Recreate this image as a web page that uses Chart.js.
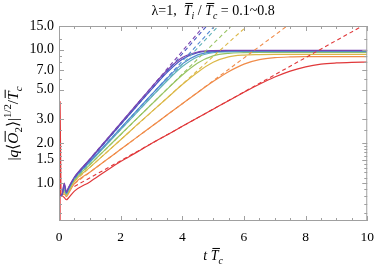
<!DOCTYPE html>
<html><head><meta charset="utf-8">
<script src="https://cdn.jsdelivr.net/npm/chart.js@4/dist/chart.umd.min.js"></script>
<style>html,body{margin:0;padding:0;background:#fff}canvas{display:block}</style>
</head><body>
<canvas id="c" width="382" height="268"></canvas>
<script>
// ---- data ----
const ratios = ['0.1','0.2','0.3','0.4','0.5','0.6','0.7','0.8'];
const tGrid = [0,0.1,0.17,0.24,0.3,0.5,1,1.5,2,2.5,3,3.5,4,4.5,5,5.5,6,6.5,7,7.5,8,8.5,9,9.5,10];
const v01 = [0.80,0.82,1.00,0.86,0.92,1.11,1.51,2.06,2.81,3.83,5.21,6.97,8.71,9.58,9.81,9.84,9.85,9.85,9.85,9.85,9.85,9.85,9.85,9.85,9.85];
const v02 = [0.80,0.82,0.98,0.85,0.91,1.10,1.49,2.03,2.75,3.72,5.03,6.72,8.46,9.47,9.74,9.79,9.80,9.80,9.80,9.80,9.80,9.80,9.80,9.80,9.80];
const v03 = [0.80,0.82,0.95,0.84,0.90,1.085,1.45,1.93,2.58,3.44,4.59,6.07,7.81,9.11,9.60,9.73,9.75,9.75,9.75,9.75,9.75,9.75,9.75,9.75,9.75];
const v04 = [0.80,0.82,0.92,0.83,0.89,1.08,1.43,1.89,2.51,3.33,4.41,5.81,7.45,8.83,9.46,9.61,9.64,9.65,9.65,9.65,9.65,9.65,9.65,9.65,9.65];
const v05 = [0.80,0.81,0.89,0.82,0.87,1.055,1.37,1.78,2.31,3.00,3.88,5.03,6.45,7.93,8.96,9.37,9.47,9.50,9.50,9.50,9.50,9.50,9.50,9.50,9.50];
const v06 = [0.80,0.81,0.86,0.81,0.85,1.03,1.31,1.66,2.11,2.69,3.41,4.32,5.47,6.77,8.02,8.80,9.09,9.17,9.20,9.20,9.20,9.20,9.20,9.20,9.20];
const v07 = [0.80,0.81,0.83,0.79,0.83,0.99,1.205,1.47,1.79,2.18,2.65,3.23,3.93,4.77,5.75,6.82,7.78,8.40,8.69,8.80,8.84,8.85,8.85,8.85,8.85];
const v08 = [0.80,0.80,0.78,0.75,0.77,0.87,1.02,1.22,1.45,1.69,1.98,2.29,2.66,3.08,3.57,4.14,4.78,5.49,6.22,6.89,7.42,7.77,7.93,8.01,8.05];
const solidValues = [v01,v02,v03,v04,v05,v06,v07,v08];
// initial spike of the 0.8 run
const spikeT = [0,0.03,0.06,0.1];
const spikeV = [0.3,4.1,0.82,0.80];
// dashed (exponential-growth) guide lines: start and end points
const dashStartT = [0.5,0.5,0.5,0.5,0.5,0.5,0.5,0.5];
const dashStartV = [1.11,1.10,1.085,1.08,1.055,1.03,0.99,0.943];
const dashEndT   = [4.70,4.79,5.05,5.17,5.59,6.10,7.40,9.84];
const dashEndV   = [15,15,15,15,15,15,15,15];
// ticks
const xTicks = [0,2,4,6,8,10];
const xMinor = [0.5,1,1.5,2.5,3,3.5,4.5,5,5.5,6.5,7,7.5,8.5,9,9.5];
const yTicks = [1,1.5,2,3,5,7,10,15];
const yMinor = [0.6,0.7,0.8,0.9,1.1,1.2,1.3,1.4,1.6,1.7,1.8,1.9,2.5,4,6,8,9,12];

const colors = ['#7a44b0','#4a58c2','#4f88d2','#62b2b8','#98c462','#dcb848','#f08c4a','#e0383a'];
const SERIF = '"Liberation Serif","Times New Roman",serif';

const datasets = [];
ratios.forEach((r,i)=>{
  datasets.push({label:'dash '+r, data:[{x:dashStartT[i],y:dashStartV[i]},{x:dashEndT[i],y:dashEndV[i]}],
    borderColor:colors[i], borderWidth:1.1, borderDash:[4,3], pointRadius:0, tension:0});
});
ratios.forEach((r,i)=>{
  datasets.push({label:r, data:tGrid.map((t,k)=>({x:t,y:solidValues[i][k]})),
    borderColor:colors[i], borderWidth:1.2, pointRadius:0, cubicInterpolationMode:'monotone'});
});
datasets.push({label:'spike', data:spikeT.map((t,k)=>({x:t,y:spikeV[k]})), borderColor:colors[7], borderWidth:1.5, pointRadius:0, tension:0});

function fontFor(p,size){ const s=(p.sub||p.sup)?size*0.7:size; return (p.it?'italic ':'')+s.toFixed(1)+'px '+SERIF; }
function richWidth(ctx,parts,size){ let w=0; for(const p of parts){ ctx.font=fontFor(p,size); w+=ctx.measureText(p.t).width; } return w; }
function drawRich(ctx,parts,x,y,size){
  let cx=x;
  for(const p of parts){
    ctx.font=fontFor(p,size);
    const w=ctx.measureText(p.t).width;
    let yy=y; if(p.sub) yy+=size*0.25; if(p.sup) yy-=size*0.42;
    ctx.fillText(p.t,cx,yy);
    if(p.over){ ctx.fillRect(cx+size*0.12, y-size*0.86, w-size*0.02, 1); }
    cx+=w;
  }
}
const titleParts=[{t:'λ=1,  '},{t:'T',it:1,over:1},{t:'i',it:1,sub:1},{t:' / '},{t:'T',it:1,over:1},{t:'c',it:1,sub:1},{t:' = 0.1~0.8'}];
const yTitleParts=[{t:'|'},{t:'q',it:1},{t:'⟨'},{t:'O',it:1,over:1},{t:'2',sub:1},{t:'⟩|'},{t:'1/2',sup:1},{t:'/'},{t:'T',it:1,over:1},{t:'c',it:1,sub:1}];
const xTitleParts=[{t:'t',it:1},{t:' '},{t:'T',it:1,over:1},{t:'c',it:1,sub:1}];

const framePlugin={id:'frame',afterDatasetsDraw(chart){
  const {ctx,chartArea:a,scales:{x,y}}=chart;
  ctx.save();
  ctx.strokeStyle='#a0a0a0'; ctx.lineWidth=1;
  ctx.strokeRect(a.left+0.5,a.top+0.5,a.right-a.left-1,a.bottom-a.top-1);
  ctx.beginPath();
  const tick=(vals,len,isX)=>{ for(const v of vals){
    if(isX){ const px=Math.round(x.getPixelForValue(v))+0.5;
      ctx.moveTo(px,a.bottom); ctx.lineTo(px,a.bottom-len); ctx.moveTo(px,a.top); ctx.lineTo(px,a.top+len);
    } else { const py=Math.round(y.getPixelForValue(v))+0.5;
      ctx.moveTo(a.left,py); ctx.lineTo(a.left+len,py); ctx.moveTo(a.right,py); ctx.lineTo(a.right-len,py); } } };
  tick(xTicks,5,true); tick(xMinor,3,true); tick(yTicks,5,false); tick(yMinor,3,false);
  ctx.stroke();
  ctx.restore();
},afterDraw(chart){
  const {ctx,chartArea:a}=chart;
  ctx.save(); ctx.fillStyle='#000'; ctx.textBaseline='alphabetic';
  let s=14, w=richWidth(ctx,titleParts,s);
  drawRich(ctx,titleParts,(a.left+a.right)/2-w/2,15,s);
  w=richWidth(ctx,xTitleParts,s);
  drawRich(ctx,xTitleParts,(a.left+a.right)/2-w/2,260,s);
  s=15.5; w=richWidth(ctx,yTitleParts,s);
  ctx.translate(18,(a.top+a.bottom)/2); ctx.rotate(-Math.PI/2);
  drawRich(ctx,yTitleParts,-w/2,0,s);
  ctx.restore();
}};

new Chart(document.getElementById('c'),{
  type:'line',
  data:{datasets},
  options:{
    responsive:false, animation:false, events:[],
    layout:{padding:{left:0,right:8,top:26,bottom:0}},
    plugins:{legend:{display:false},title:{display:false},tooltip:{enabled:false}},
    scales:{
      x:{type:'linear',min:0,max:10,
        grid:{display:false,drawTicks:false}, border:{display:false},
        ticks:{padding:8,color:'#000',font:{family:SERIF,size:13.5},maxRotation:0,autoSkip:false},
        afterBuildTicks:s=>{s.ticks=xTicks.map(v=>({value:v}));},
        afterFit:s=>{s.height=47;}},
      y:{type:'logarithmic',min:0.52,max:15,
        grid:{display:false,drawTicks:false}, border:{display:false},
        ticks:{padding:5,color:'#000',font:{family:SERIF,size:14},autoSkip:false,callback:v=>Number(v).toFixed(1)},
        afterBuildTicks:s=>{s.ticks=yTicks.map(v=>({value:v}));},
        afterFit:s=>{s.width=59;}}
    }
  },
  plugins:[framePlugin]
});
</script>
</body></html>
